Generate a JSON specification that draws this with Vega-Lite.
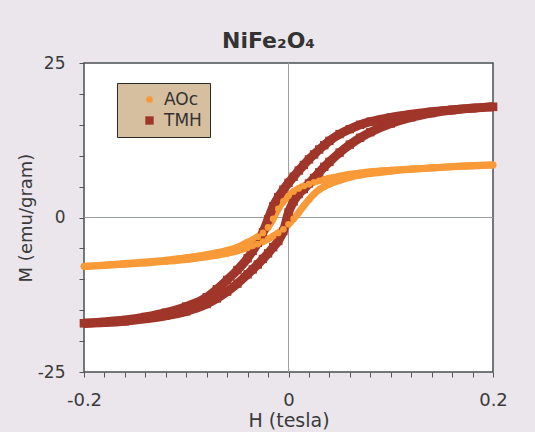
{
  "$schema": "https://vega.github.io/schema/vega-lite/v6.json",
  "width": 409,
  "height": 309,
  "autosize": {"type": "none"},
  "padding": {"left": 84, "top": 63, "right": 42, "bottom": 60},
  "background": "#ebe6ec",
  "config": {
    "view": {"fill": "white", "stroke": "#4a4f4f", "strokeWidth": 1.5},
    "font": "DejaVu Sans"
  },
  "title": {
    "text": "NiFe₂O₄",
    "fontSize": 22,
    "fontWeight": "bold",
    "color": "#333333",
    "offset": 1,
    "dx": -20,
    "anchor": "middle"
  },
  "data": {"values": [
    {"s":"TMH","b":"d","h":-0.2,"m":-17.1},{"s":"TMH","b":"d","h":-0.18,"m":-16.9},{"s":"TMH","b":"d","h":-0.16,"m":-16.6},{"s":"TMH","b":"d","h":-0.14,"m":-16.1},{"s":"TMH","b":"d","h":-0.12,"m":-15.4},{"s":"TMH","b":"d","h":-0.1,"m":-14.4},{"s":"TMH","b":"d","h":-0.08,"m":-12.9},{"s":"TMH","b":"d","h":-0.07,"m":-11.6},{"s":"TMH","b":"d","h":-0.06,"m":-10.1},{"s":"TMH","b":"d","h":-0.05,"m":-8.5},{"s":"TMH","b":"d","h":-0.04,"m":-6.6},{"s":"TMH","b":"d","h":-0.035,"m":-5.4},{"s":"TMH","b":"d","h":-0.03,"m":-4.1},{"s":"TMH","b":"d","h":-0.025,"m":-2.4},{"s":"TMH","b":"d","h":-0.02,"m":-0.3},{"s":"TMH","b":"d","h":-0.015,"m":1.8},{"s":"TMH","b":"d","h":-0.01,"m":3.3},{"s":"TMH","b":"d","h":-0.005,"m":4.5},{"s":"TMH","b":"d","h":0,"m":5.6},{"s":"TMH","b":"d","h":0.005,"m":6.6},{"s":"TMH","b":"d","h":0.01,"m":7.6},{"s":"TMH","b":"d","h":0.015,"m":8.5},{"s":"TMH","b":"d","h":0.02,"m":9.4},{"s":"TMH","b":"d","h":0.025,"m":10.2},{"s":"TMH","b":"d","h":0.03,"m":11.0},{"s":"TMH","b":"d","h":0.035,"m":11.7},{"s":"TMH","b":"d","h":0.04,"m":12.4},{"s":"TMH","b":"d","h":0.05,"m":13.5},{"s":"TMH","b":"d","h":0.06,"m":14.3},{"s":"TMH","b":"d","h":0.07,"m":15.0},{"s":"TMH","b":"d","h":0.08,"m":15.5},{"s":"TMH","b":"d","h":0.1,"m":16.2},{"s":"TMH","b":"d","h":0.12,"m":16.7},{"s":"TMH","b":"d","h":0.14,"m":17.1},{"s":"TMH","b":"d","h":0.16,"m":17.4},{"s":"TMH","b":"d","h":0.18,"m":17.7},{"s":"TMH","b":"d","h":0.2,"m":17.9},
    {"s":"TMH","b":"a","h":-0.2,"m":-17.1},{"s":"TMH","b":"a","h":-0.18,"m":-17.0},{"s":"TMH","b":"a","h":-0.16,"m":-16.8},{"s":"TMH","b":"a","h":-0.14,"m":-16.4},{"s":"TMH","b":"a","h":-0.12,"m":-15.9},{"s":"TMH","b":"a","h":-0.1,"m":-15.2},{"s":"TMH","b":"a","h":-0.08,"m":-14.0},{"s":"TMH","b":"a","h":-0.07,"m":-13.1},{"s":"TMH","b":"a","h":-0.06,"m":-12.0},{"s":"TMH","b":"a","h":-0.05,"m":-10.7},{"s":"TMH","b":"a","h":-0.04,"m":-9.2},{"s":"TMH","b":"a","h":-0.035,"m":-8.4},{"s":"TMH","b":"a","h":-0.03,"m":-7.6},{"s":"TMH","b":"a","h":-0.025,"m":-6.7},{"s":"TMH","b":"a","h":-0.02,"m":-5.8},{"s":"TMH","b":"a","h":-0.015,"m":-4.8},{"s":"TMH","b":"a","h":-0.01,"m":-3.8},{"s":"TMH","b":"a","h":-0.005,"m":-2.2},{"s":"TMH","b":"a","h":0,"m":0.8},{"s":"TMH","b":"a","h":0.005,"m":2.6},{"s":"TMH","b":"a","h":0.01,"m":3.8},{"s":"TMH","b":"a","h":0.015,"m":4.6},{"s":"TMH","b":"a","h":0.02,"m":5.5},{"s":"TMH","b":"a","h":0.025,"m":6.4},{"s":"TMH","b":"a","h":0.03,"m":7.3},{"s":"TMH","b":"a","h":0.035,"m":8.2},{"s":"TMH","b":"a","h":0.04,"m":9.0},{"s":"TMH","b":"a","h":0.05,"m":10.5},{"s":"TMH","b":"a","h":0.06,"m":11.8},{"s":"TMH","b":"a","h":0.07,"m":12.9},{"s":"TMH","b":"a","h":0.08,"m":13.8},{"s":"TMH","b":"a","h":0.1,"m":15.2},{"s":"TMH","b":"a","h":0.12,"m":16.2},{"s":"TMH","b":"a","h":0.14,"m":16.9},{"s":"TMH","b":"a","h":0.16,"m":17.4},{"s":"TMH","b":"a","h":0.18,"m":17.7},{"s":"TMH","b":"a","h":0.2,"m":17.9},
    {"s":"AOc","b":"d","h":-0.2,"m":-7.9},{"s":"AOc","b":"d","h":-0.18,"m":-7.7},{"s":"AOc","b":"d","h":-0.16,"m":-7.45},{"s":"AOc","b":"d","h":-0.14,"m":-7.2},{"s":"AOc","b":"d","h":-0.12,"m":-6.9},{"s":"AOc","b":"d","h":-0.1,"m":-6.5},{"s":"AOc","b":"d","h":-0.08,"m":-6.0},{"s":"AOc","b":"d","h":-0.07,"m":-5.7},{"s":"AOc","b":"d","h":-0.06,"m":-5.3},{"s":"AOc","b":"d","h":-0.05,"m":-4.8},{"s":"AOc","b":"d","h":-0.04,"m":-4.0},{"s":"AOc","b":"d","h":-0.035,"m":-3.6},{"s":"AOc","b":"d","h":-0.03,"m":-3.1},{"s":"AOc","b":"d","h":-0.025,"m":-2.5},{"s":"AOc","b":"d","h":-0.02,"m":-1.6},{"s":"AOc","b":"d","h":-0.015,"m":-0.2},{"s":"AOc","b":"d","h":-0.01,"m":1.4},{"s":"AOc","b":"d","h":-0.005,"m":2.6},{"s":"AOc","b":"d","h":0,"m":3.5},{"s":"AOc","b":"d","h":0.005,"m":4.2},{"s":"AOc","b":"d","h":0.01,"m":4.7},{"s":"AOc","b":"d","h":0.015,"m":5.1},{"s":"AOc","b":"d","h":0.02,"m":5.4},{"s":"AOc","b":"d","h":0.025,"m":5.7},{"s":"AOc","b":"d","h":0.03,"m":5.95},{"s":"AOc","b":"d","h":0.035,"m":6.15},{"s":"AOc","b":"d","h":0.04,"m":6.35},{"s":"AOc","b":"d","h":0.05,"m":6.7},{"s":"AOc","b":"d","h":0.06,"m":7.0},{"s":"AOc","b":"d","h":0.07,"m":7.2},{"s":"AOc","b":"d","h":0.08,"m":7.4},{"s":"AOc","b":"d","h":0.1,"m":7.65},{"s":"AOc","b":"d","h":0.12,"m":7.85},{"s":"AOc","b":"d","h":0.14,"m":8.05},{"s":"AOc","b":"d","h":0.16,"m":8.25},{"s":"AOc","b":"d","h":0.18,"m":8.4},{"s":"AOc","b":"d","h":0.2,"m":8.5},
    {"s":"AOc","b":"a","h":-0.2,"m":-7.9},{"s":"AOc","b":"a","h":-0.18,"m":-7.75},{"s":"AOc","b":"a","h":-0.16,"m":-7.55},{"s":"AOc","b":"a","h":-0.14,"m":-7.35},{"s":"AOc","b":"a","h":-0.12,"m":-7.1},{"s":"AOc","b":"a","h":-0.1,"m":-6.8},{"s":"AOc","b":"a","h":-0.08,"m":-6.35},{"s":"AOc","b":"a","h":-0.07,"m":-6.1},{"s":"AOc","b":"a","h":-0.06,"m":-5.8},{"s":"AOc","b":"a","h":-0.05,"m":-5.4},{"s":"AOc","b":"a","h":-0.04,"m":-4.9},{"s":"AOc","b":"a","h":-0.035,"m":-4.6},{"s":"AOc","b":"a","h":-0.03,"m":-4.3},{"s":"AOc","b":"a","h":-0.025,"m":-3.9},{"s":"AOc","b":"a","h":-0.02,"m":-3.5},{"s":"AOc","b":"a","h":-0.015,"m":-3.0},{"s":"AOc","b":"a","h":-0.01,"m":-2.5},{"s":"AOc","b":"a","h":-0.005,"m":-1.9},{"s":"AOc","b":"a","h":0,"m":-1.1},{"s":"AOc","b":"a","h":0.005,"m":-0.2},{"s":"AOc","b":"a","h":0.01,"m":0.8},{"s":"AOc","b":"a","h":0.015,"m":1.9},{"s":"AOc","b":"a","h":0.02,"m":2.9},{"s":"AOc","b":"a","h":0.025,"m":3.8},{"s":"AOc","b":"a","h":0.03,"m":4.5},{"s":"AOc","b":"a","h":0.035,"m":5.0},{"s":"AOc","b":"a","h":0.04,"m":5.4},{"s":"AOc","b":"a","h":0.05,"m":6.0},{"s":"AOc","b":"a","h":0.06,"m":6.5},{"s":"AOc","b":"a","h":0.07,"m":6.85},{"s":"AOc","b":"a","h":0.08,"m":7.1},{"s":"AOc","b":"a","h":0.1,"m":7.5},{"s":"AOc","b":"a","h":0.12,"m":7.8},{"s":"AOc","b":"a","h":0.14,"m":8.0},{"s":"AOc","b":"a","h":0.16,"m":8.2},{"s":"AOc","b":"a","h":0.18,"m":8.35},{"s":"AOc","b":"a","h":0.2,"m":8.5}
  ]},
  "encoding": {
    "x": {
      "field": "h", "type": "quantitative",
      "scale": {"domain": [-0.2, 0.2], "nice": false, "zero": false},
      "axis": {
        "title": "H (tesla)",
        "values": [-0.2,-0.18,-0.16,-0.14,-0.12,-0.1,-0.08,-0.06,-0.04,-0.02,0,0.02,0.04,0.06,0.08,0.1,0.12,0.14,0.16,0.18,0.2],
        "labelExpr": "datum.value < -0.19 ? '-0.2' : (datum.value > 0.19 ? '0.2' : (abs(datum.value) < 0.001 ? '0' : ''))",
        "grid": false, "domain": false,
        "tickColor": "#555555", "tickSize": 5,
        "labelFontSize": 18, "labelColor": "#3a3a3a", "labelPadding": 14, "labelFlush": false,
        "titleFontSize": 19, "titleFontWeight": "normal", "titleColor": "#3a3a3a", "titlePadding": 2
      }
    },
    "y": {
      "field": "m", "type": "quantitative",
      "scale": {"domain": [-25, 25], "nice": false},
      "axis": {
        "title": "M (emu/gram)",
        "values": [-25,-20,-15,-10,-5,0,5,10,15,20,25],
        "labelExpr": "datum.value == -25 ? '-25' : (datum.value == 25 ? '25' : (datum.value == 0 ? '0' : ''))",
        "grid": false, "domain": false,
        "tickColor": "#555555", "tickSize": 5,
        "labelFontSize": 17, "labelColor": "#3a3a3a", "labelPadding": 14, "labelFlush": false,
        "titleFontSize": 18, "titleFontWeight": "normal", "titleColor": "#3a3a3a", "titlePadding": 2
      }
    }
  },
  "layer": [
    {
      "mark": {"type": "rule", "color": "#9a9f9f", "strokeWidth": 1},
      "encoding": {"x": {"datum": 0}, "y": null}
    },
    {
      "mark": {"type": "rule", "color": "#9a9f9f", "strokeWidth": 1},
      "encoding": {"y": {"datum": 0}, "x": null}
    },
    {
      "transform": [{"filter": "datum.s == 'AOc'"}],
      "mark": {"type": "line", "interpolate": "monotone", "color": "#f99a38", "strokeWidth": 7},
      "encoding": {"detail": {"field": "b"}}
    },
    {
      "transform": [{"filter": "datum.s == 'TMH'"}],
      "mark": {"type": "line", "interpolate": "monotone", "color": "#a0352a", "strokeWidth": 9},
      "encoding": {"detail": {"field": "b"}}
    },
    {
      "mark": {"type": "point", "filled": true, "opacity": 1},
      "encoding": {
        "color": {"field": "s", "type": "nominal", "scale": {"domain": ["AOc", "TMH"], "range": ["#f99a38", "#a0352a"]},
          "legend": {
            "title": null, "orient": "none", "legendX": 33, "legendY": 20,
            "fillColor": "#d6bf9f", "strokeColor": "#2a2a2a",
            "padding": 8, "labelFontSize": 17, "labelColor": "#333333",
            "rowPadding": 3, "labelOffset": 6, "symbolStrokeWidth": 0, "symbolOffset": 16
          }},
        "shape": {"field": "s", "type": "nominal", "scale": {"domain": ["AOc", "TMH"], "range": ["circle", "square"]},
          "legend": {
            "title": null, "orient": "none", "legendX": 33, "legendY": 20,
            "fillColor": "#d6bf9f", "strokeColor": "#2a2a2a",
            "padding": 8, "labelFontSize": 17, "labelColor": "#333333",
            "rowPadding": 3, "labelOffset": 6, "symbolStrokeWidth": 0, "symbolOffset": 16
          }},
        "size": {"field": "s", "type": "nominal", "scale": {"domain": ["AOc", "TMH"], "range": [45, 70]},
          "legend": {
            "title": null, "orient": "none", "legendX": 33, "legendY": 20,
            "fillColor": "#d6bf9f", "strokeColor": "#2a2a2a",
            "padding": 8, "labelFontSize": 17, "labelColor": "#333333",
            "rowPadding": 3, "labelOffset": 6, "symbolStrokeWidth": 0, "symbolOffset": 16
          }}
      }
    }
  ]
}
